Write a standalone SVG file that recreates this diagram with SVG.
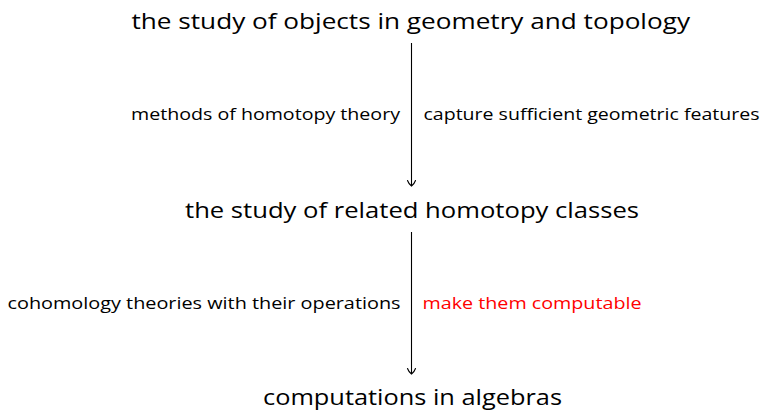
<svg xmlns="http://www.w3.org/2000/svg" xmlns:xlink="http://www.w3.org/1999/xlink" width="767" height="411" viewBox="0 0 767 411">
<style>
.t{font-family:"Open Sans","Lato","DejaVu Sans",sans-serif;fill:#000;font-weight:400}
.big{font-size:22px}
.lab{font-size:16px}
.red{fill:#ff0000}
.ln{stroke:#000;stroke-width:1.1;fill:none}
</style>
<defs>
<path id="tip" d="M-4,-5.5 C-3,-2.5 -1,-0.8 0,0 C1,-0.8 3,-2.5 4,-5.5" fill="none" stroke="#000" stroke-width="1.1" stroke-linecap="round"/>
</defs>
<rect width="767" height="411" fill="#fff"/>
<g id="node-top"><text class="t big" x="131.5" y="29" textLength="558.5" lengthAdjust="spacingAndGlyphs">the study of objects in geometry and topology</text></g>
<g id="node-mid"><text class="t big" x="185" y="218" textLength="454" lengthAdjust="spacingAndGlyphs">the study of related homotopy classes</text></g>
<g id="node-bot"><text class="t big" x="263" y="405" textLength="299" lengthAdjust="spacingAndGlyphs">computations in algebras</text></g>
<g id="connectors">
<line class="ln" x1="411.5" y1="43" x2="411.5" y2="186"/>
<use xlink:href="#tip" x="411.5" y="186"/>
<line class="ln" x1="411.5" y1="232" x2="411.5" y2="374"/>
<use xlink:href="#tip" x="411.5" y="374"/>
<text class="t lab" x="131" y="120" textLength="269" lengthAdjust="spacingAndGlyphs">methods of homotopy theory</text>
<text class="t lab" x="423.5" y="120" textLength="336" lengthAdjust="spacingAndGlyphs">capture sufficient geometric features</text>
<text class="t lab" x="7.5" y="309" textLength="393" lengthAdjust="spacingAndGlyphs">cohomology theories with their operations</text>
<text class="t lab red" x="422.5" y="309" textLength="219" lengthAdjust="spacingAndGlyphs">make them computable</text>
</g>
</svg>
